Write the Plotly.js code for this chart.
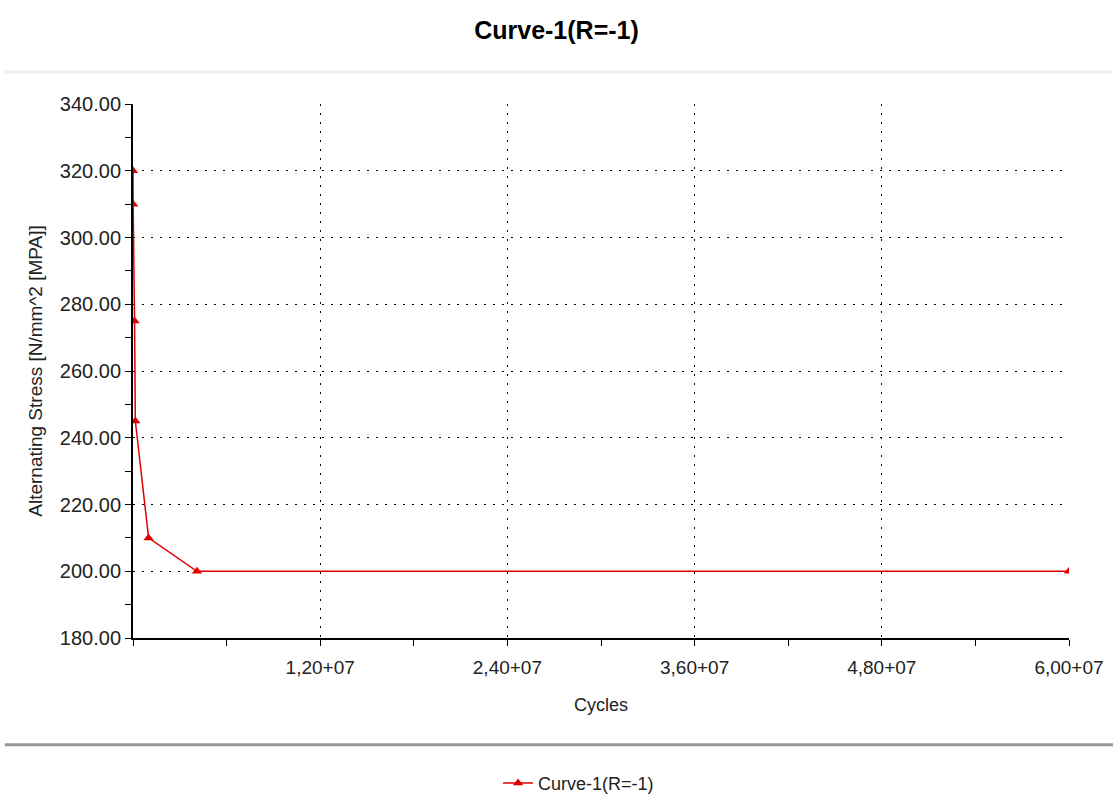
<!DOCTYPE html>
<html><head><meta charset="utf-8">
<script src="https://cdn.plot.ly/plotly-3.0.1.min.js"></script>
<style>body{margin:0;background:#fff}#c{width:1113px;height:798px}</style>
</head><body><div id="c"></div>
<script>
const seriesName = 'Curve-1(R=-1)';
const cycles = [1000, 10000, 100000, 150000, 1000000, 4100000, 60000000];
const stress = [320, 310, 275, 245, 210, 200, 200];
const xTickVals = [12000000, 24000000, 36000000, 48000000, 60000000];
const xTickText = ['1,20+07', '2,40+07', '3,60+07', '4,80+07', '6,00+07'];

const fontFam = '"Liberation Sans Narrow", "Arial Narrow", "Liberation Sans", Arial, sans-serif';
const fontReg = '"Liberation Sans", Arial, sans-serif';

const trace = {
  x: cycles, y: stress, name: seriesName, type: 'scatter', mode: 'lines+markers',
  line: {color: '#e00000', width: 1.5},
  marker: {symbol: 'triangle-up', size: 9, color: '#e00000'}
};

const layout = {
  width: 1113, height: 798,
  margin: {l: 133, r: 44, t: 104, b: 160, autoexpand: false},
  paper_bgcolor: '#fff', plot_bgcolor: '#fff',
  font: {family: fontReg, color: '#222'},
  title: {text: '<b>' + seriesName + '</b>', x: 0.5, xanchor: 'center', y: 0.962, yanchor: 'middle',
          font: {family: fontFam, size: 25, color: '#000'}},
  xaxis: {
    range: [0, 60000000], tickmode: 'array', tickvals: xTickVals, ticktext: xTickText,
    showgrid: true, gridcolor: '#000', gridwidth: 1, griddash: '2px,7px',
    showline: true, linecolor: '#000', linewidth: 1.5, zeroline: false,
    ticks: 'outside', ticklen: 6, tickcolor: '#000', ticklabelstandoff: 5,
    minor: {dtick: 6000000, tick0: 0, ticks: 'outside', ticklen: 6, tickcolor: '#000', showgrid: false},
    tickfont: {family: fontReg, size: 19, color: '#222'},
    title: {text: 'Cycles', font: {family: fontReg, size: 18, color: '#222'}, standoff: 22}
  },
  yaxis: {
    range: [180, 340], dtick: 20, tick0: 180, tickformat: '.2f',
    showgrid: true, gridcolor: '#000', gridwidth: 1, griddash: '2px,7px',
    showline: true, linecolor: '#000', linewidth: 2, zeroline: false,
    ticks: 'outside', ticklen: 6, tickcolor: '#000',
    minor: {dtick: 10, ticks: 'outside', ticklen: 6, tickcolor: '#000', showgrid: false},
    tickfont: {family: fontReg, size: 20, color: '#222'},
    title: {text: 'Alternating Stress [N/mm^2 [MPA]]', font: {family: fontReg, size: 19, color: '#222'}, standoff: 12}
  },
  showlegend: true,
  legend: {orientation: 'h', x: 0.39, xanchor: 'left', y: -0.272, yanchor: 'middle',
           font: {family: fontReg, size: 18, color: '#222'}, bgcolor: 'rgba(0,0,0,0)'},
  shapes: [
    {type: 'line', xref: 'paper', yref: 'paper', x0: -0.137, x1: 1.05, y0: 1.06, y1: 1.06,
     line: {color: '#eeeeee', width: 3}},
    {type: 'line', xref: 'paper', yref: 'paper', x0: -0.137, x1: 1.05, y0: -0.2, y1: -0.2,
     line: {color: '#9a9a9a', width: 3}}
  ]
};

Plotly.newPlot('c', [trace], layout, {displayModeBar: false});
</script>
</body></html>
